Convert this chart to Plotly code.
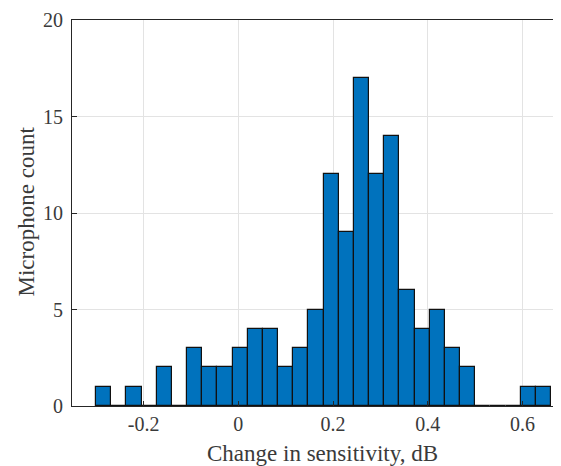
import plotly.graph_objects as go

# histogram bins (dB) and counts
bin_start = -0.30
bin_width = 0.032
counts = [1, 0, 1, 0, 2, 0, 3, 2, 2, 3, 4, 4, 2, 3, 5, 12, 9, 17, 12, 14, 6, 4, 5, 3, 2, 0, 0, 0, 1, 1]
centers = [round(bin_start + bin_width * (i + 0.5), 4) for i in range(len(counts))]

x_ticks = [-0.2, 0, 0.2, 0.4, 0.6]
x_tick_text = ['-0.2', '0', '0.2', '0.4', '0.6']
y_ticks = [0, 5, 10, 15, 20]

FONT = 'Liberation Serif'
AX = '#262626'
TXT = '#3a3a3a'

fig = go.Figure()
fig.add_trace(go.Bar(x=centers, y=counts, width=bin_width,
                     marker=dict(color='#0072BD', line=dict(color='#111111', width=1.2))))

# page body adds an 8px margin, so the figure is 8px smaller each way
fig.update_layout(
    width=553, height=458,
    margin=dict(l=64, r=0, t=12, b=60),
    plot_bgcolor='white', paper_bgcolor='white',
    font=dict(family=FONT, size=20, color=TXT),
    showlegend=False, bargap=0,
)
fig.update_xaxes(range=[-0.351, 0.681], tickvals=x_ticks, ticktext=x_tick_text,
                 showgrid=True, gridcolor='#e3e3e3', gridwidth=1, zeroline=False,
                 showline=True, linecolor=AX, linewidth=1.2, mirror=True,
                 ticks='inside', ticklen=5, tickcolor=AX, automargin=False)
fig.update_yaxes(range=[0, 20], tickvals=y_ticks,
                 showgrid=True, gridcolor='#e3e3e3', gridwidth=1, zeroline=False,
                 showline=True, linecolor=AX, linewidth=1.2,
                 ticks='inside', ticklen=5, tickcolor=AX, automargin=False,
                 ticklabelstandoff=4)

# axis titles as annotations so the plot area stays put
fig.add_annotation(text='Change in sensitivity, dB', xref='paper', yref='paper',
                   x=0.513, y=-0.122, yanchor='middle', showarrow=False,
                   font=dict(family=FONT, size=23, color=TXT))
fig.add_annotation(text='Microphone count', xref='paper', yref='paper',
                   x=-0.094, y=0.504, xanchor='center', yanchor='middle',
                   textangle=-90, showarrow=False,
                   font=dict(family=FONT, size=23, color=TXT))

fig.write_html('out.html')
